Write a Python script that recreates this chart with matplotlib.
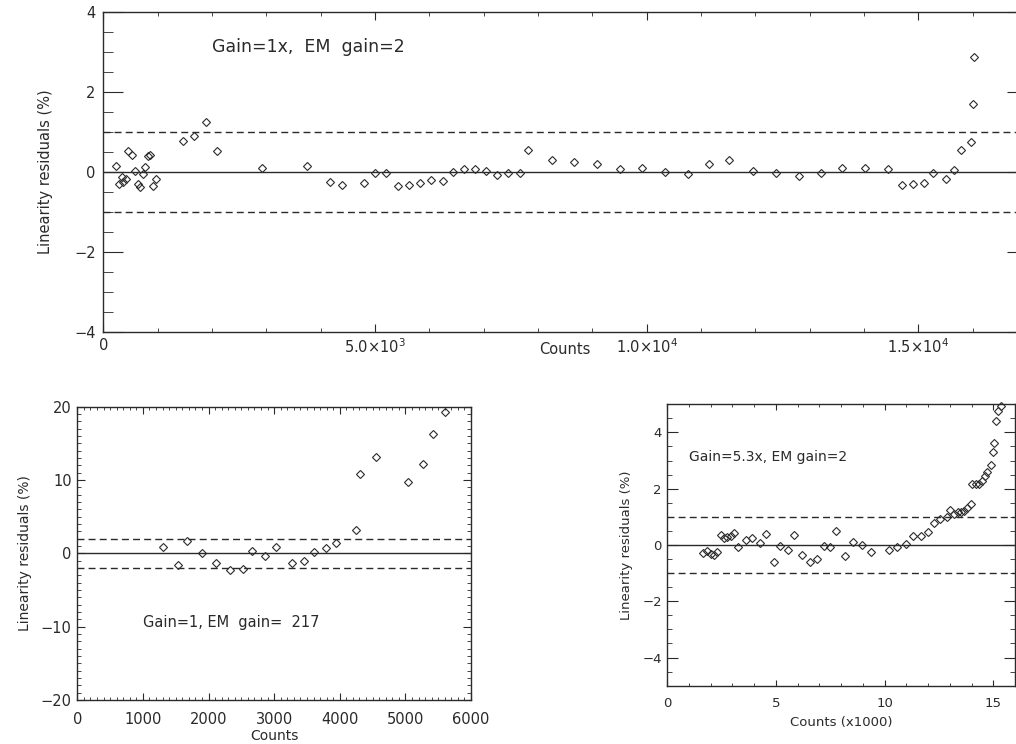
import numpy as np
import matplotlib
matplotlib.use("Agg")
import matplotlib.pyplot as plt
from matplotlib.ticker import MultipleLocator, FixedLocator, FixedFormatter

# Top panel: Gain=1x, EM gain=2
top_counts = [228, 289, 350, 368, 418, 461, 523, 584, 633, 676, 725, 768, 817, 860,
              909, 970, 1473, 1676, 1885, 2094, 2928, 3751, 4169, 4396, 4789, 4991,
              5193, 5414, 5617, 5820, 6022, 6243, 6427, 6630, 6832, 7035, 7245, 7453,
              7661, 7822, 8258, 8663, 9087, 9510, 9908, 10332, 10755, 11142, 11523,
              11960, 12383, 12800, 13205, 13598, 14015, 14438, 14696, 14899, 15096,
              15267, 15501, 15661, 15790, 15961, 16011, 16029]
top_resid = [0.15, -0.29, -0.13, -0.24, -0.17, 0.52, 0.42, 0.03, -0.29, -0.38, -0.04,
             0.13, 0.39, 0.42, -0.34, -0.18, 0.78, 0.91, 1.25, 0.52, 0.11, 0.15, -0.24,
             -0.32, -0.28, -0.03, -0.03, -0.34, -0.33, -0.28, -0.19, -0.22, -0.01, 0.08,
             0.07, 0.03, -0.08, -0.03, -0.02, 0.56, 0.29, 0.25, 0.21, 0.08, 0.10, 0.00,
             -0.06, 0.21, 0.31, 0.03, -0.02, -0.09, -0.02, 0.10, 0.10, 0.07, -0.33,
             -0.30, -0.27, -0.03, -0.18, 0.06, 0.55, 0.76, 1.70, 2.87]
top_ticks = [0, 5000, 10000, 15000]
top_ticklabels = ["0", r"5.0$\times$10$^3$", r"1.0$\times$10$^4$", r"1.5$\times$10$^4$"]

# Bottom left: Gain=1, EM gain=217
bl_counts = [1311, 1540, 1672, 1895, 2119, 2327, 2530, 2658, 2866, 3028, 3272, 3460,
             3608, 3786, 3943, 4253, 4304, 4553, 5046, 5269, 5422, 5605]
bl_resid = [0.91, -1.55, 1.68, 0.05, -1.28, -2.28, -2.19, 0.36, -0.32, 0.82, -1.28,
            -1.05, 0.18, 0.68, 1.41, 3.23, 10.79, 13.16, 9.70, 12.16, 16.35, 19.31]

# Bottom right: Gain=5.3x, EM gain=2 (counts in thousands)
br_counts = [1.62, 1.81, 2.00, 2.14, 2.30, 2.45, 2.60, 2.76, 2.91, 3.08, 3.26, 3.60,
             3.92, 4.26, 4.55, 4.91, 5.20, 5.54, 5.85, 6.18, 6.55, 6.89, 7.19, 7.47,
             7.78, 8.16, 8.54, 8.95, 9.38, 10.19, 10.59, 10.99, 11.29, 11.66, 11.98,
             12.28, 12.55, 12.86, 13.03, 13.20, 13.36, 13.53, 13.67, 13.81, 13.98,
             14.02, 14.21, 14.36, 14.48, 14.60, 14.72, 14.88, 14.97, 15.05, 15.11,
             15.20, 15.34]
br_resid = [-0.27, -0.20, -0.33, -0.34, -0.26, 0.34, 0.25, 0.27, 0.33, 0.41, -0.07,
            0.18, 0.25, 0.06, 0.40, -0.62, -0.05, -0.18, 0.36, -0.36, -0.62, -0.49,
            -0.04, -0.08, 0.51, -0.40, 0.11, 0.01, -0.25, -0.18, -0.08, 0.03, 0.33,
            0.33, 0.45, 0.79, 0.92, 1.00, 1.25, 1.11, 1.16, 1.16, 1.22, 1.30, 1.47,
            2.16, 2.16, 2.16, 2.28, 2.46, 2.61, 2.84, 3.29, 3.64, 4.41, 4.77, 4.95]

ink = "#2a2a2a"
plt.rcParams['font.family'] = ['DejaVu Sans']
plt.rcParams['text.color'] = ink
plt.rcParams['axes.labelcolor'] = ink
plt.rcParams['xtick.color'] = ink
plt.rcParams['ytick.color'] = ink
plt.rcParams['mathtext.default'] = 'regular'

fig = plt.figure(figsize=(10.16, 7.44), dpi=100)


def style_axes(ax, xmaj, xmin, ymaj, ymin, fs, xpad, ypad):
    for s in ax.spines.values():
        s.set_color(ink)
        s.set_linewidth(1.0)
    ax.tick_params(which='both', direction='in', top=True, right=True, labelsize=fs)
    ax.tick_params(axis='x', which='major', length=xmaj, pad=xpad)
    ax.tick_params(axis='x', which='minor', length=xmin)
    ax.tick_params(axis='y', which='major', length=ymaj, pad=ypad)
    ax.tick_params(axis='y', which='minor', length=ymin)


def draw_panel(ax, x, y, band):
    ax.axhline(0, color=ink, lw=1.0)
    ax.axhline(band, color=ink, lw=1.0, ls=(0, (5, 3)))
    ax.axhline(-band, color=ink, lw=1.0, ls=(0, (5, 3)))
    ax.plot(x, y, ls='none', marker='D', ms=4.4, mfc='none', mec=ink, mew=0.8,
            clip_on=False)


# ---- top panel
ax1 = fig.add_axes([0.1017, 0.5538, 0.9092, 0.4301])
draw_panel(ax1, top_counts, top_resid, 1.0)
ax1.set_xlim(0, 17000)
ax1.set_ylim(-4, 4)
ax1.xaxis.set_major_locator(FixedLocator(top_ticks))
ax1.xaxis.set_major_formatter(FixedFormatter(top_ticklabels))
ax1.xaxis.set_minor_locator(MultipleLocator(1000))
ax1.yaxis.set_major_locator(MultipleLocator(2))
ax1.yaxis.set_minor_locator(MultipleLocator(0.5))
style_axes(ax1, 5.8, 2.9, 14.4, 7.2, 10.5, 4.0, 5.5)
ax1.set_xlabel("Counts", fontsize=10.5)
ax1.set_ylabel("Linearity residuals (%)", fontsize=10.5)
ax1.xaxis.set_label_coords(0.5, -0.03)
ax1.yaxis.set_label_coords(-0.0545, 0.5)
ax1.text(2000, 3.12, "Gain=1x,  EM  gain=2", fontsize=12.5, va='center', ha='left')

# ---- bottom left panel
ax2 = fig.add_axes([0.0761, 0.0591, 0.3875, 0.3942])
draw_panel(ax2, bl_counts, bl_resid, 2.0)
ax2.set_xlim(0, 6000)
ax2.set_ylim(-20, 20)
ax2.xaxis.set_major_locator(MultipleLocator(1000))
ax2.xaxis.set_minor_locator(MultipleLocator(100))
ax2.yaxis.set_major_locator(MultipleLocator(10))
ax2.yaxis.set_minor_locator(MultipleLocator(1))
style_axes(ax2, 4.8, 2.5, 5.5, 3.0, 10.5, 8.5, 4.0)
ax2.set_xlabel("Counts", fontsize=10)
ax2.set_ylabel("Linearity residuals (%)", fontsize=10)
ax2.xaxis.set_label_coords(0.5, -0.1)
ax2.yaxis.set_label_coords(-0.115, 0.5)
ax2.text(1000, -9.4, "Gain=1, EM  gain=  217", fontsize=10.5, va='center', ha='left')

# ---- bottom right panel
ax3 = fig.add_axes([0.6568, 0.0784, 0.3422, 0.3782])
draw_panel(ax3, br_counts, br_resid, 1.0)
ax3.set_xlim(0, 16)
ax3.set_ylim(-5, 5)
ax3.xaxis.set_major_locator(MultipleLocator(5))
ax3.xaxis.set_minor_locator(MultipleLocator(1))
ax3.yaxis.set_major_locator(MultipleLocator(2))
ax3.yaxis.set_minor_locator(MultipleLocator(0.5))
style_axes(ax3, 4.3, 2.2, 7.9, 3.6, 9.5, 8.5, 4.0)
ax3.set_xlabel("Counts (x1000)", fontsize=9.5)
ax3.set_ylabel("Linearity residuals (%)", fontsize=9.5)
ax3.xaxis.set_label_coords(0.5, -0.108)
ax3.yaxis.set_label_coords(-0.098, 0.5)
ax3.text(1.0, 3.12, "Gain=5.3x, EM gain=2", fontsize=10, va='center', ha='left')

fig.savefig("out.png", dpi=100, facecolor='white')
